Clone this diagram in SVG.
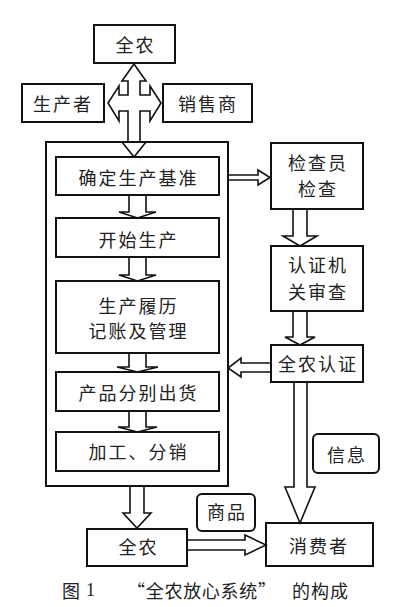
<svg xmlns="http://www.w3.org/2000/svg" width="400" height="607" viewBox="0 0 400 607">
<style>
.box{fill:none;stroke:#111;stroke-width:2}
.arr{fill:#fff;stroke:#111;stroke-width:1.6;stroke-linejoin:miter}
.t{font-family:"Noto Sans CJK SC","Noto Sans CJK JP",sans-serif;font-size:18px;fill:#222;text-anchor:middle;dominant-baseline:central;letter-spacing:2px}
.cap{font-family:"Noto Sans CJK SC","Noto Sans CJK JP",sans-serif;font-size:18px;fill:#222;dominant-baseline:central}
.num{font-family:"Liberation Serif",serif;font-size:18px;fill:#222;dominant-baseline:central}
</style>
<rect x="0" y="0" width="400" height="607" fill="#fff"/>
<g id="connectors">
<path class="arr" d="M134,64 L146,81 H140 V95 H150 V86 L161,103 L150,121 V111 H140 V142 H146 L134,157 L122,142 H128 V111 H119 V121 L108,103 L119,86 V95 H128 V81 H122 Z"/>
<path class="arr" d="M129,195 V212 H119 L137.5,218 L156,212 H146 V195"/>
<path class="arr" d="M129,257 V275 H119 L137.5,281 L156,275 H146 V257"/>
<path class="arr" d="M129,353 V367 H117 L137.5,372 L158,367 H146 V353"/>
<path class="arr" d="M129,411 V427 H118 L137.5,432 L157,427 H146 V411"/>
<path class="arr" d="M228,175 H258 V170 L270,177.5 L258,185 V180 H228"/>
<path class="arr" d="M293,209 V236 H283 L300,246 L317,236 H307 V209"/>
<path class="arr" d="M293,311 V337 H285 L300,345 L315,337 H307 V311"/>
<path class="arr" d="M271,363 H241 V358 L228,368 L241,377 V372 H271"/>
<path class="arr" d="M294,382 V487 H285 L300,523 L315,487 H307 V382"/>
<path class="arr" d="M130,486 V513 H123 L137,528 L151,513 H144 V486"/>
<path class="arr" d="M187,540 H245 V535 L266,545 L245,555 V550 H187"/>
</g>
<g id="outer"><rect class="box" x="46" y="142" width="182" height="344"/></g>
<g id="n-quannong-top"><rect class="box" x="94" y="25" width="81" height="38"/><text class="t" x="135.5" y="44">全农</text></g>
<g id="n-producer"><rect class="box" x="22" y="84" width="82" height="38"/><text class="t" x="63" y="103">生产者</text></g>
<g id="n-seller"><rect class="box" x="163" y="84" width="89" height="38"/><text class="t" x="208" y="103">销售商</text></g>
<g id="n-standard"><rect class="box" x="56" y="157" width="163" height="38"/><text class="t" x="138.5" y="177">确定生产基准</text></g>
<g id="n-start"><rect class="box" x="56" y="218" width="163" height="39"/><text class="t" x="138.5" y="239">开始生产</text></g>
<g id="n-record"><rect class="box" x="56" y="281" width="163" height="72"/><text class="t" x="138.5" y="305">生产履历</text><text class="t" x="138.5" y="330">记账及管理</text></g>
<g id="n-ship"><rect class="box" x="56" y="372" width="163" height="39"/><text class="t" x="138.5" y="392">产品分别出货</text></g>
<g id="n-process"><rect class="box" x="56" y="432" width="163" height="39"/><text class="t" x="138.5" y="451">加工、分销</text></g>
<g id="n-inspector"><rect class="box" x="271" y="143" width="92" height="66"/><text class="t" x="318" y="162">检查员</text><text class="t" x="318" y="188">检查</text></g>
<g id="n-review"><rect class="box" x="271" y="246" width="92" height="65"/><text class="t" x="318" y="264">认证机</text><text class="t" x="318" y="291">关审查</text></g>
<g id="n-cert"><rect class="box" x="271" y="345" width="92" height="37"/><text class="t" x="318" y="363">全农认证</text></g>
<g id="n-info"><rect class="box" x="313" y="434" width="66" height="39" rx="5"/><text class="t" x="347" y="454">信息</text></g>
<g id="n-goods"><rect class="box" x="197" y="494" width="58" height="37" rx="5"/><text class="t" x="227" y="511">商品</text></g>
<g id="n-quannong-bottom"><rect class="box" x="87" y="529" width="100" height="37"/><text class="t" x="138.5" y="546">全农</text></g>
<g id="n-consumer"><rect class="box" x="266" y="523" width="107" height="43"/><text class="t" x="319" y="545">消费者</text></g>
<g id="caption">
<text class="cap" x="62" y="590">图</text>
<text class="num" x="86" y="590">1</text>
<text class="cap" x="127" y="590" textLength="149" lengthAdjust="spacing">“全农放心系统”</text>
<text class="cap" x="292" y="590" textLength="56" lengthAdjust="spacing">的构成</text>
</g>
</svg>
